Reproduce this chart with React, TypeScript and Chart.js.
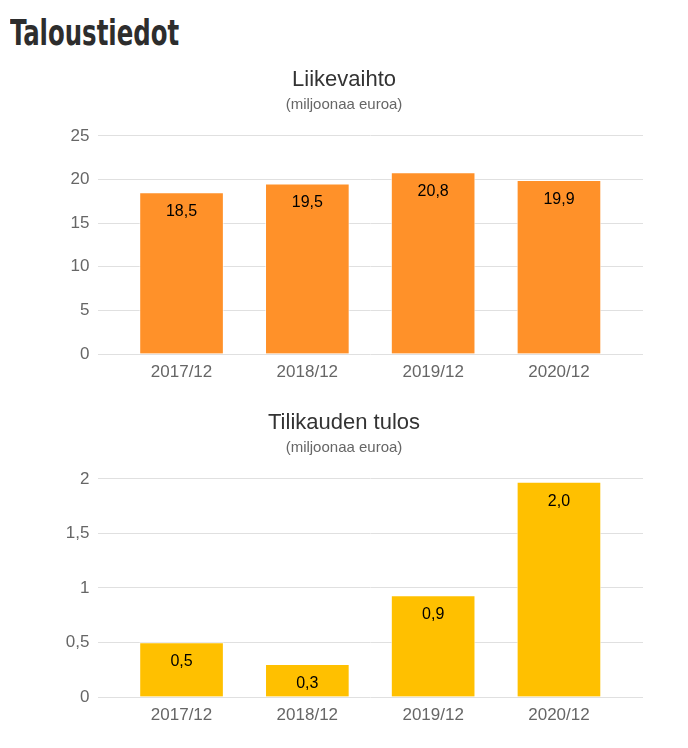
import React, { useEffect, useRef } from "react";
import { Chart, registerables } from "chart.js";

Chart.register(...registerables);

const categories = ["2017/12", "2018/12", "2019/12", "2020/12"];
const revenue = [18.5, 19.5, 20.8, 19.9];
const profit = [0.5, 0.3, 0.93, 1.97];
const revenueTicks = [0, 5, 10, 15, 20, 25];
const profitTicks = [0, 0.5, 1, 1.5, 2];

const FONT = "'Liberation Sans', Arial, sans-serif";
const fmt = (v: number, d?: number) =>
  (d === undefined ? String(v) : v.toFixed(d)).replace(".", ",");

const labelPlugin = {
  id: "barLabels",
  afterDatasetsDraw(chart: any) {
    const ctx = chart.ctx;
    const meta = chart.getDatasetMeta(0);
    const ds = chart.data.datasets[0];
    ctx.save();
    ctx.font = `16px ${FONT}`;
    ctx.fillStyle = "#000";
    ctx.textAlign = "center";
    ctx.textBaseline = "middle";
    meta.data.forEach((el: any, i: number) => {
      ctx.fillText(fmt(ds.data[i].y, 1), el.x, el.y + 19);
    });
    ctx.restore();
  },
};

function BarChart({ title, values, ticks, color }: { title: string; values: number[]; ticks: number[]; color: string }) {
  const ref = useRef<HTMLCanvasElement>(null);
  useEffect(() => {
    const chart = new Chart(ref.current!, {
      type: "bar",
      data: {
        datasets: [
          {
            data: values.map((v, i) => ({ x: i, y: v })),
            backgroundColor: color,
            borderColor: "rgba(255,255,255,0.55)",
            borderWidth: 1,
            barThickness: 84,
          },
        ],
      },
      options: {
        responsive: false,
        animation: false,
        devicePixelRatio: 1,
        layout: { padding: 0 },
        plugins: {
          legend: { display: false },
          tooltip: { enabled: false },
          title: {
            display: true,
            text: title,
            color: "#333",
            font: { family: FONT, size: 22, weight: "normal" },
            padding: { top: 8.5, bottom: 0 },
          },
          subtitle: {
            display: true,
            text: "(miljoonaa euroa)",
            color: "#666",
            font: { family: FONT, size: 15, weight: "normal" },
            padding: { top: 3, bottom: 22 },
          },
        },
        scales: {
          x: {
            type: "linear",
            offset: false,
            min: -0.668,
            max: categories.length - 1 + 0.668,
            grid: { display: false, drawTicks: false, offset: false },
            border: { display: false },
            afterBuildTicks: (s: any) => {
              s.ticks = categories.map((_, i) => ({ value: i }));
            },
            afterFit: (s: any) => {
              s.height = 47;
            },
            ticks: {
              padding: 8,
              color: "#666",
              font: { family: FONT, size: 17 },
              maxRotation: 0,
              autoSkip: false,
              callback: (v: any) => categories[v] ?? "",
            },
          },
          y: {
            min: ticks[0],
            max: ticks[ticks.length - 1],
            grid: { color: "#e0e0e0", lineWidth: 1, drawTicks: false },
            border: { display: false },
            afterBuildTicks: (s: any) => {
              s.ticks = ticks.map((t) => ({ value: t }));
            },
            afterFit: (s: any) => {
              s.width = 89.5;
            },
            ticks: {
              padding: 8,
              color: "#666",
              font: { family: FONT, size: 17 },
              callback: (v: any) => fmt(Number(v)),
            },
          },
          yRight: {
            position: "right",
            display: true,
            grid: { display: false, drawTicks: false },
            border: { display: false },
            ticks: { display: false },
            afterFit: (s: any) => {
              s.width = 37;
            },
          },
        },
      },
      plugins: [labelPlugin],
    } as any);
    return () => chart.destroy();
  }, []);
  return (
    <div style={{ width: 672, height: 343 }}>
      <canvas ref={ref} width={672} height={343} style={{ display: "block" }} />
    </div>
  );
}

export default function App() {
  return (
    <div style={{ width: 672 }}>
      <div
        style={{
          height: 50,
          lineHeight: "50px",
          fontFamily: "'DejaVu Sans Condensed', sans-serif",
          fontWeight: "bold",
          fontSize: 35,
          color: "#2d2d2d",
          paddingLeft: 2,
          whiteSpace: "nowrap",
        }}
      >
        <span style={{ display: "inline-block", transform: "scaleX(0.775)", transformOrigin: "left center" }}>
          Taloustiedot
        </span>
      </div>
      <BarChart title="Liikevaihto" values={revenue} ticks={revenueTicks} color="#ff9129" />
      <BarChart title="Tilikauden tulos" values={profit} ticks={profitTicks} color="#ffc000" />
    </div>
  );
}
